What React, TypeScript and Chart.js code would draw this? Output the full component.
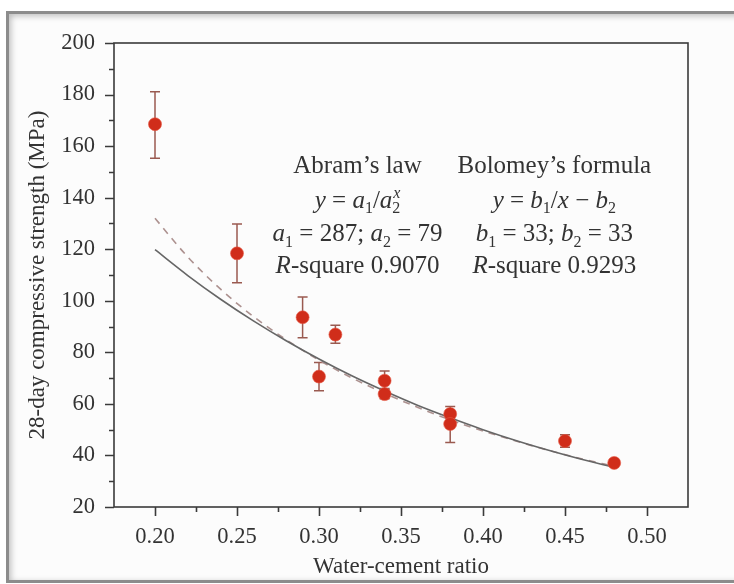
import React, { useEffect, useRef } from 'react';
import { Chart, registerables } from 'chart.js';

Chart.register(...registerables);

// Measured data (water-cement ratio vs 28-day compressive strength)
const ratio = [0.2, 0.25, 0.29, 0.3, 0.31, 0.34, 0.34, 0.38, 0.38, 0.45, 0.48];
const strength = [168.5, 118.4, 93.6, 70.6, 86.9, 69.0, 63.8, 56.1, 52.2, 45.6, 37.1];
const errLow = [155.3, 107.0, 85.7, 65.1, 83.5, 66.0, 62.0, 53.5, 45.0, 43.2, 36.0];
const errHigh = [181.1, 129.8, 101.5, 76.1, 90.5, 72.8, 65.6, 59.0, 54.5, 48.0, 38.2];

// Fitted curves
const curveX = [0.2, 0.22, 0.24, 0.26, 0.28, 0.3, 0.32, 0.34, 0.36, 0.38, 0.4, 0.42, 0.44, 0.46, 0.48];
const abramY = [119.8, 109.8, 100.6, 92.2, 84.5, 77.4, 70.9, 65.0, 59.5, 54.6, 50.0, 45.8, 42.0, 38.5, 35.3];
const bolomeyY = [132.0, 117.0, 104.5, 93.9, 84.9, 77.0, 70.1, 64.1, 58.7, 53.8, 49.5, 45.6, 42.0, 38.7, 35.8];

// Axis ticks
const xTicks = [0.2, 0.25, 0.3, 0.35, 0.4, 0.45, 0.5];
const xMinor = [0.225, 0.275, 0.325, 0.375, 0.425, 0.475];
const yTicks = [20, 40, 60, 80, 100, 120, 140, 160, 180, 200];
const yMinor = [30, 50, 70, 90, 110, 130, 150, 170, 190];

type Seg = { t: string; i?: boolean; sub?: boolean; sup?: string };

const abramLines: Seg[][] = [
  [{ t: 'Abram’s law' }],
  [{ t: 'y', i: true }, { t: ' = ' }, { t: 'a', i: true }, { t: '1', sub: true }, { t: '/' }, { t: 'a', i: true }, { t: '2', sub: true, sup: 'x' }],
  [{ t: 'a', i: true }, { t: '1', sub: true }, { t: ' = 287; ' }, { t: 'a', i: true }, { t: '2', sub: true }, { t: ' = 79' }],
  [{ t: 'R', i: true }, { t: '-square 0.9070' }],
];
const bolomeyLines: Seg[][] = [
  [{ t: 'Bolomey’s formula' }],
  [{ t: 'y', i: true }, { t: ' = ' }, { t: 'b', i: true }, { t: '1', sub: true }, { t: '/' }, { t: 'x', i: true }, { t: ' − ' }, { t: 'b', i: true }, { t: '2', sub: true }],
  [{ t: 'b', i: true }, { t: '1', sub: true }, { t: ' = 33; ' }, { t: 'b', i: true }, { t: '2', sub: true }, { t: ' = 33' }],
  [{ t: 'R', i: true }, { t: '-square 0.9293' }],
];
const annotX = [0.3235, 0.4435];
const annotY = [152.8, 139.2, 126.3, 113.8];

const FAMILY = '"Liberation Serif", "DejaVu Serif", serif';
const TEXT = '#333333';

function drawRich(ctx: CanvasRenderingContext2D, segs: Seg[], cx: number, cy: number, size: number) {
  const small = size * 0.64;
  const font = (it: boolean | undefined, s: number) => `${it ? 'italic ' : ''}${s}px ${FAMILY}`;
  const widths = segs.map((s) => {
    if (s.sub) {
      ctx.font = font(false, small);
      const w1 = ctx.measureText(s.t).width;
      let w2 = 0;
      if (s.sup) {
        ctx.font = font(true, small);
        w2 = ctx.measureText(s.sup).width;
      }
      return Math.max(w1, w2);
    }
    ctx.font = font(s.i, size);
    return ctx.measureText(s.t).width;
  });
  const total = widths.reduce((a, b) => a + b, 0);
  let x = cx - total / 2;
  ctx.textBaseline = 'alphabetic';
  ctx.textAlign = 'left';
  ctx.fillStyle = TEXT;
  const base = cy + size * 0.33;
  segs.forEach((s, k) => {
    if (s.sub) {
      ctx.font = font(false, small);
      ctx.fillText(s.t, x, base + size * 0.22);
      if (s.sup) {
        ctx.font = font(true, small);
        ctx.fillText(s.sup, x + 1, base - size * 0.38);
      }
    } else {
      ctx.font = font(s.i, size);
      ctx.fillText(s.t, x, base);
    }
    x += widths[k];
  });
}

const framePlugin = {
  id: 'framePlugin',
  beforeDatasetsDraw(chart: any) {
    const { ctx, scales } = chart;
    const xs = scales.x;
    const ys = scales.y;
    ctx.save();
    // error bars
    ctx.strokeStyle = '#9a5a50';
    ctx.lineWidth = 1.5;
    ratio.forEach((r, k) => {
      const px = xs.getPixelForValue(r);
      const lo = ys.getPixelForValue(errLow[k]);
      const hi = ys.getPixelForValue(errHigh[k]);
      ctx.beginPath();
      ctx.moveTo(px, lo);
      ctx.lineTo(px, hi);
      ctx.moveTo(px - 5, lo);
      ctx.lineTo(px + 5, lo);
      ctx.moveTo(px - 5, hi);
      ctx.lineTo(px + 5, hi);
      ctx.stroke();
    });
    ctx.restore();
  },
  afterDraw(chart: any) {
    const { ctx, chartArea: a, scales } = chart;
    const xs = scales.x;
    const ys = scales.y;
    ctx.save();
    ctx.strokeStyle = '#3a3a3a';
    ctx.lineWidth = 1.6;
    ctx.strokeRect(a.left, a.top, a.right - a.left, a.bottom - a.top);
    ctx.beginPath();
    xTicks.forEach((v) => {
      const p = Math.round(xs.getPixelForValue(v)) + 0.5;
      ctx.moveTo(p, a.bottom);
      ctx.lineTo(p, a.bottom + 9);
    });
    xMinor.forEach((v) => {
      const p = Math.round(xs.getPixelForValue(v)) + 0.5;
      ctx.moveTo(p, a.bottom);
      ctx.lineTo(p, a.bottom + 5);
    });
    yTicks.forEach((v) => {
      const p = Math.round(ys.getPixelForValue(v)) + 0.5;
      ctx.moveTo(a.left, p);
      ctx.lineTo(a.left - 9, p);
    });
    yMinor.forEach((v) => {
      const p = Math.round(ys.getPixelForValue(v)) + 0.5;
      ctx.moveTo(a.left, p);
      ctx.lineTo(a.left - 5, p);
    });
    ctx.stroke();
    // annotations
    [abramLines, bolomeyLines].forEach((lines, g) => {
      const cx = xs.getPixelForValue(annotX[g]);
      lines.forEach((segs, k) => {
        drawRich(ctx, segs, cx, ys.getPixelForValue(annotY[k]), 25);
      });
    });
    ctx.restore();
  },
};

export default function App() {
  const ref = useRef<HTMLCanvasElement | null>(null);
  useEffect(() => {
    document.body.style.margin = '0';
    document.body.style.overflow = 'hidden';
    const canvas = ref.current;
    if (!canvas) return;
    const chart = new Chart(canvas, {
      type: 'scatter',
      data: {
        datasets: [
          {
            label: 'Bolomey',
            data: curveX.map((x, k) => ({ x, y: bolomeyY[k] })),
            showLine: true,
            borderColor: '#ad9290',
            borderWidth: 1.6,
            borderDash: [7, 6],
            pointRadius: 0,
            cubicInterpolationMode: 'monotone',
            order: 3,
          },
          {
            label: 'Abram',
            data: curveX.map((x, k) => ({ x, y: abramY[k] })),
            showLine: true,
            borderColor: '#666666',
            borderWidth: 1.6,
            pointRadius: 0,
            cubicInterpolationMode: 'monotone',
            order: 2,
          },
          {
            label: 'Measured',
            data: ratio.map((x, k) => ({ x, y: strength[k] })),
            showLine: false,
            pointRadius: 6.5,
            pointBackgroundColor: '#d02d1a',
            pointBorderColor: 'rgba(230,90,70,0.6)',
            pointBorderWidth: 1,
            order: 1,
          },
        ],
      },
      options: {
        animation: false,
        responsive: false,
        maintainAspectRatio: false,
        events: [],
        layout: { padding: { top: 43, right: 46, left: 0, bottom: 0 } },
        plugins: { legend: { display: false }, tooltip: { enabled: false } },
        scales: {
          x: {
            type: 'linear',
            min: 0.175,
            max: 0.525,
            afterBuildTicks: (s: any) => {
              s.ticks = xTicks.map((v) => ({ value: v }));
            },
            afterFit: (s: any) => {
              s.height = 77;
            },
            grid: { display: false, drawTicks: false },
            border: { display: false },
            ticks: {
              padding: 17,
              color: TEXT,
              font: { family: FAMILY, size: 22.5 },
              callback: (v: any) => Number(v).toFixed(2),
            },
            title: {
              display: true,
              text: 'Water-cement ratio',
              color: TEXT,
              font: { family: FAMILY, size: 23 },
              padding: { top: 0, bottom: 3 },
            },
          },
          y: {
            type: 'linear',
            min: 20,
            max: 200,
            afterBuildTicks: (s: any) => {
              s.ticks = yTicks.map((v) => ({ value: v }));
            },
            afterFit: (s: any) => {
              s.width = 114;
            },
            grid: { display: false, drawTicks: false },
            border: { display: false },
            ticks: {
              padding: 19,
              color: TEXT,
              font: { family: FAMILY, size: 22.5 },
            },
            title: {
              display: true,
              text: '28-day compressive strength (MPa)',
              color: TEXT,
              font: { family: FAMILY, size: 23 },
              padding: { top: 24, bottom: 0 },
            },
          },
        },
      },
      plugins: [framePlugin],
    } as any);
    return () => chart.destroy();
  }, []);

  return (
    <div style={{ position: 'absolute', left: 0, top: 0, width: 734, height: 584, overflow: 'hidden', background: '#ffffff' }}>
      <div
        style={{
          position: 'absolute',
          left: 6,
          top: 11,
          width: 740,
          height: 566,
          border: '3px solid #8c8c8c',
          boxShadow: 'inset 2px 2px 6px rgba(0,0,0,0.25)',
          background: '#fcfcfc',
        }}
      />
      <canvas ref={ref} width={734} height={584} style={{ position: 'absolute', left: 0, top: 0, width: 734, height: 584 }} />
    </div>
  );
}
